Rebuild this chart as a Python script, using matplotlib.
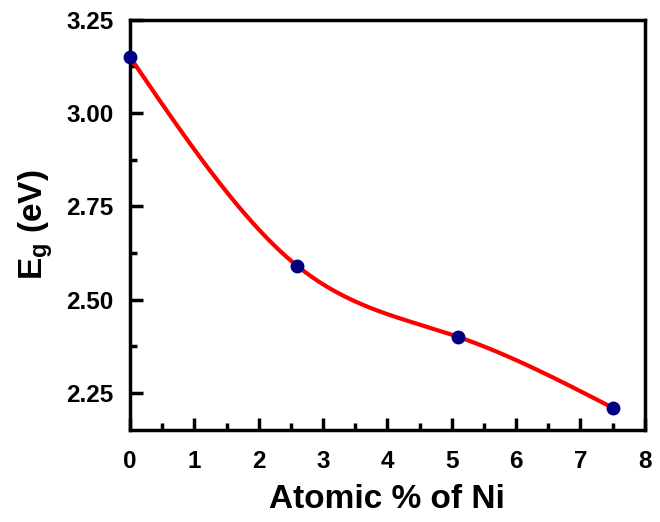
import numpy as np
import matplotlib
matplotlib.use('Agg')
import matplotlib.pyplot as plt
import matplotlib.ticker

# Data
ni_percent = [0.0, 2.6, 5.1, 7.5]
band_gap = [3.15, 2.59, 2.40, 2.21]


def natural_spline(x, y, n=300):
    # Natural cubic spline through the points (smooth connecting line)
    x = np.asarray(x, float)
    y = np.asarray(y, float)
    k = len(x)
    h = np.diff(x)
    A = np.zeros((k, k))
    b = np.zeros(k)
    A[0, 0] = A[-1, -1] = 1.0
    for i in range(1, k - 1):
        A[i, i - 1] = h[i - 1]
        A[i, i] = 2 * (h[i - 1] + h[i])
        A[i, i + 1] = h[i]
        b[i] = 3 * ((y[i + 1] - y[i]) / h[i] - (y[i] - y[i - 1]) / h[i - 1])
    c = np.linalg.solve(A, b)
    xs = np.linspace(x[0], x[-1], n)
    ys = np.empty_like(xs)
    for j, xv in enumerate(xs):
        i = min(np.searchsorted(x, xv, side='right') - 1, k - 2)
        dx = xv - x[i]
        bi = (y[i + 1] - y[i]) / h[i] - h[i] * (2 * c[i] + c[i + 1]) / 3
        di = (c[i + 1] - c[i]) / (3 * h[i])
        ys[j] = y[i] + bi * dx + c[i] * dx ** 2 + di * dx ** 3
    return xs, ys


plt.rcParams['font.family'] = ['Liberation Sans', 'DejaVu Sans']
plt.rcParams['font.weight'] = 'bold'

fig = plt.figure(figsize=(6.6, 5.22), dpi=100)
ax = fig.add_axes([0.197, 0.176, 0.78, 0.786])

xs, ys = natural_spline(ni_percent, band_gap)
ax.plot(xs, ys, color='red', lw=3, zorder=2)
ax.plot(ni_percent, band_gap, 'o', color='#000080', ms=9, zorder=3, clip_on=False)

ax.set_xlim(0, 8)
ax.set_ylim(2.15, 3.25)
ax.xaxis.set_major_locator(matplotlib.ticker.MultipleLocator(1))
ax.xaxis.set_minor_locator(matplotlib.ticker.MultipleLocator(0.5))
ax.yaxis.set_major_locator(matplotlib.ticker.MultipleLocator(0.25))
ax.yaxis.set_minor_locator(matplotlib.ticker.MultipleLocator(0.125))
ax.yaxis.set_major_formatter(matplotlib.ticker.FormatStrFormatter('%.2f'))

ax.tick_params(which='both', direction='in', width=2.5, labelsize=17.5)
ax.tick_params(axis='x', pad=14)
ax.tick_params(axis='y', pad=12)
ax.tick_params(which='major', length=9)
ax.tick_params(which='minor', length=5)
for s in ax.spines.values():
    s.set_linewidth(2.5)

ax.set_xlabel('Atomic % of Ni', fontsize=24, fontweight='bold', labelpad=8)
ax.set_ylabel(r'E$_\mathregular{g}$ (eV)', fontsize=24, fontweight='bold', labelpad=8)

fig.savefig('out.png', dpi=100)
